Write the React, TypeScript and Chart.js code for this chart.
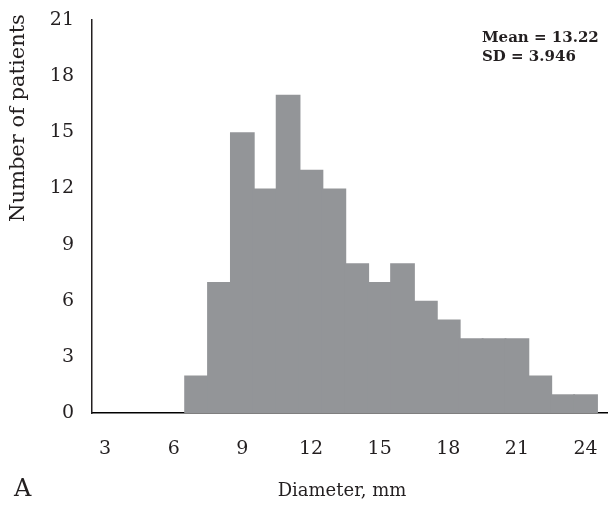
import React, { useEffect, useRef } from "react";
import { Chart, registerables } from "chart.js";

Chart.register(...registerables);

// Histogram bins (bin centre in mm) and counts
const binCenters = [7, 8, 9, 10, 11, 12, 13, 14, 15, 16, 17, 18, 19, 20, 21, 22, 23, 24];
const patientCounts = [2, 7, 15, 12, 17, 13, 12, 8, 7, 8, 6, 5, 4, 4, 4, 2, 1, 1];
const xTickValues = [3, 6, 9, 12, 15, 18, 21, 24];
const yTickValues = [0, 3, 6, 9, 12, 15, 18, 21];
const statsLines = ["Mean = 13.22", "SD = 3.946"];
const xTitle = "Diameter, mm";
const yTitle = "Number of patients";
const panelLabel = "A";

const TEXT = "#231f20";
const BAR = "#939598";
const SERIF = '"DejaVu Serif", serif';

const textPlugin = {
  id: "customTexts",
  afterDraw(chart: any) {
    const ctx = chart.ctx;
    ctx.save();
    ctx.fillStyle = TEXT;
    ctx.textBaseline = "alphabetic";
    // x title
    ctx.font = `18px ${SERIF}`;
    ctx.textAlign = "center";
    ctx.fillText(xTitle, 342, 496);
    // panel label
    ctx.font = `24px ${SERIF}`;
    ctx.textAlign = "left";
    ctx.fillText(panelLabel, 14, 496);
    // stats
    ctx.font = `bold 15px ${SERIF}`;
    ctx.textAlign = "left";
    ctx.fillText(statsLines[0], 482, 42);
    ctx.fillText(statsLines[1], 482, 61);
    // y title
    ctx.font = `21px ${SERIF}`;
    ctx.translate(24, 118);
    ctx.rotate(-Math.PI / 2);
    ctx.textAlign = "center";
    ctx.fillText(yTitle, 0, 0);
    ctx.restore();
  },
};

export default function App() {
  const ref = useRef<HTMLCanvasElement | null>(null);
  useEffect(() => {
    if (!ref.current) return;
    const chart = new Chart(ref.current, {
      type: "bar",
      data: {
        datasets: [
          {
            data: binCenters.map((x, i) => ({ x, y: patientCounts[i] })),
            backgroundColor: BAR,
            borderWidth: 0,
            categoryPercentage: 1,
            barPercentage: 1.08,
          },
        ],
      },
      options: {
        animation: false,
        responsive: false,
        devicePixelRatio: 1,
        layout: { padding: { top: 20, right: 0, left: 0, bottom: 0 } },
        plugins: { legend: { display: false }, tooltip: { enabled: false } },
        scales: {
          x: {
            type: "linear",
            offset: false,
            min: 2.43,
            max: 24.98,
            afterBuildTicks: (s: any) => {
              s.ticks = xTickValues.map((v) => ({ value: v }));
            },
            afterFit: (s: any) => {
              s.height = 93;
              s.paddingLeft = 0;
              s.paddingRight = 0;
            },
            grid: { display: false, drawTicks: false, offset: false },
            border: { display: true, color: "#000", width: 1.5 },
            ticks: {
              color: TEXT,
              font: { family: SERIF, size: 19 },
              padding: 25,
              maxRotation: 0,
              autoSkip: false,
            },
          },
          y: {
            min: 0,
            max: 21,
            afterBuildTicks: (s: any) => {
              s.ticks = yTickValues.map((v) => ({ value: v }));
            },
            afterFit: (s: any) => {
              s.width = 92;
              s.paddingTop = 0;
              s.paddingBottom = 0;
            },
            grid: { display: false, drawTicks: false },
            border: { display: true, color: TEXT, width: 1.5 },
            ticks: {
              color: TEXT,
              font: { family: SERIF, size: 19 },
              padding: 18,
            },
          },
        },
      },
      plugins: [textPlugin],
    });
    return () => chart.destroy();
  }, []);
  return (
    <div style={{ position: "absolute", left: 0, top: 0, width: 608, height: 506, background: "#fff" }}>
      <canvas ref={ref} width={608} height={506} style={{ display: "block" }} />
    </div>
  );
}
